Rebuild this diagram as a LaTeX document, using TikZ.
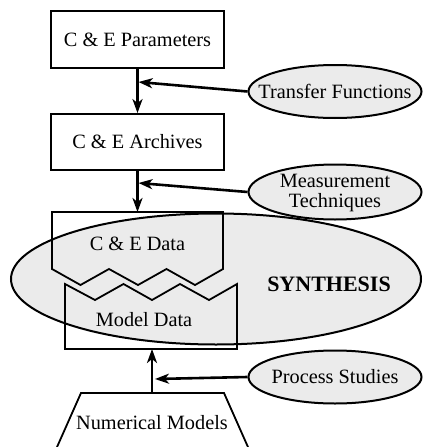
\documentclass[tikz,border=0pt]{standalone}
\usepackage{fontspec}
\setmainfont{Liberation Serif}
\usetikzlibrary{arrows.meta,shapes.geometric}
\definecolor{shade}{gray}{0.92}
\tikzstyle{box}=[rectangle,draw,line width=1.8pt,minimum width=173pt,text=black]
\tikzstyle{oval}=[ellipse,draw,fill=shade,line width=2pt,minimum width=173pt,minimum height=53pt,inner sep=0pt]
\tikzstyle{outline}=[line width=1.8pt,line join=miter]
\tikzstyle{flow}=[-{Stealth[length=14pt,width=10pt,inset=4pt]},line width=2.6pt]
\tikzstyle{feeds}=[-{Stealth[length=14pt,width=10pt,inset=4pt]},line width=2.6pt]

\begin{document}
\begin{tikzpicture}[x=1pt,y=-1pt,font=\fontsize{20.3}{22}\selectfont]

  \useasboundingbox (0,0) rectangle (423,447);

  % synthesis region under everything
  \node[oval,minimum width=410pt,minimum height=131pt] (S) at (216,279) {};

  \node[box,minimum height=57pt] (P) at (137.5,39.5) {C \& E Parameters};
  \node[box,minimum height=56pt] (A) at (137.5,142) {C \& E Archives};

  \node[oval] (TF) at (335,91.5) {\makebox[0pt]{Transfer Functions}};
  \node[oval,minimum height=55pt] (MT) at (335,192) {\smash{\makebox[0pt]{\raisebox{-6pt}{\begin{tabular}{@{}c@{}}Measurement\\[-2pt]Techniques\end{tabular}}}}};
  \node[oval] (PS) at (335,377) {\makebox[0pt]{Process Studies}};

  % data boxes with torn edges
  \draw[outline] (223,269) -- (223,212) -- (52,212) -- (52,269) -- (80.5,285) -- (109,269)
    -- (138,285) -- (166.5,269) -- (195,285) -- cycle;
  \draw[outline] (65,284) -- (65,349) -- (237,349) -- (237,284) -- (209,300) -- (180,284)
    -- (152,300) -- (123.5,284) -- (95,300) -- cycle;
  \draw[outline] (54.8,452) -- (81,393) -- (224,393) -- (250.2,452);

  \node (D) at (137.5,244) {C \& E Data};
  \node (M) at (144,320) {Model Data};
  \node (N) at (152,423) {Numerical Models};
  \node[font=\fontsize{22}{24}\selectfont\bfseries] (syn) at (329,284) {SYNTHESIS};

  \coordinate (Dtop) at (137.5,212);
  \coordinate (Mbot) at (152,349);
  \coordinate (Ntop) at (152,393);
  \coordinate (j1) at (138.5,82);
  \coordinate (j2) at (138.5,183);
  \coordinate (j3) at (155,379);

  \draw[flow] (P)--(A);
  \draw[flow] (A)--(Dtop);
  \draw[flow] (Ntop)--(Mbot);

  \draw[feeds] (TF.west)--(j1);
  \draw[feeds] (MT.west)--(j2);
  \draw[feeds] (PS.west)--(j3);

\end{tikzpicture}
\end{document}
